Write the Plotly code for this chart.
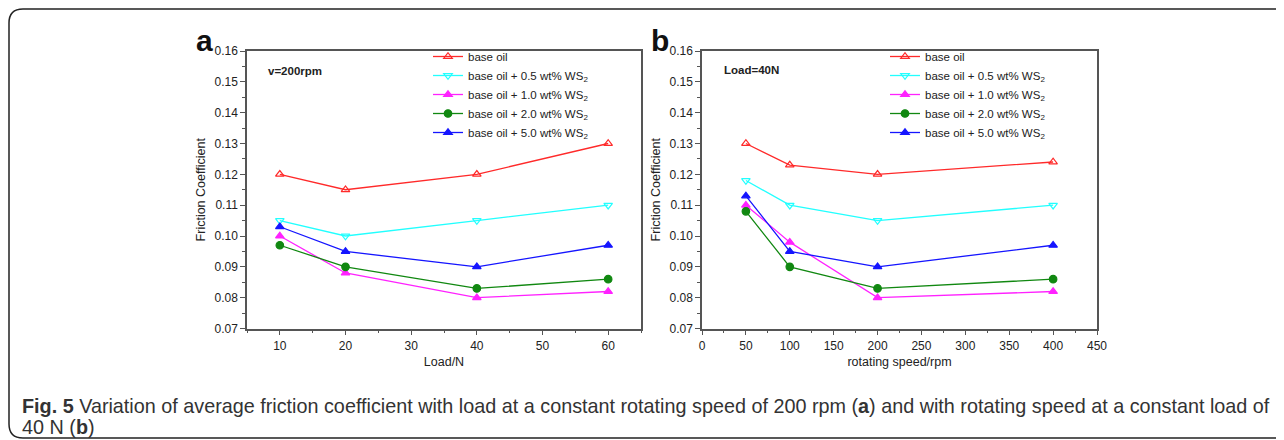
import plotly.graph_objects as go

# ---- data ----
load_n = [10, 20, 40, 60]
speed_rpm = [50, 100, 200, 400]
series_names = ["base oil", "base oil + 0.5 wt% WS<sub>2</sub>", "base oil + 1.0 wt% WS<sub>2</sub>",
                "base oil + 2.0 wt% WS<sub>2</sub>", "base oil + 5.0 wt% WS<sub>2</sub>"]
a_base = [0.120, 0.115, 0.120, 0.130]
a_05 = [0.105, 0.100, 0.105, 0.110]
a_10 = [0.100, 0.088, 0.080, 0.082]
a_20 = [0.097, 0.090, 0.083, 0.086]
a_50 = [0.103, 0.095, 0.090, 0.097]
b_base = [0.130, 0.123, 0.120, 0.124]
b_05 = [0.118, 0.110, 0.105, 0.110]
b_10 = [0.110, 0.098, 0.080, 0.082]
b_20 = [0.108, 0.090, 0.083, 0.086]
b_50 = [0.113, 0.095, 0.090, 0.097]

colors = ["#ff2a2a", "#22ffff", "#ff22ff", "#118811", "#1515ff"]
symbols = ["triangle-up-open", "triangle-down-open", "triangle-up", "circle", "triangle-up"]

# page has an 8px body margin, so the figure is shifted by 8px
OFF = 8
W, H = 1284 - OFF, 440 - OFF
fig = go.Figure()

a_series = [a_base, a_05, a_10, a_20, a_50]
b_series = [b_base, b_05, b_10, b_20, b_50]
for i, ys in enumerate(a_series):
    fig.add_trace(go.Scatter(x=load_n, y=ys, mode="lines+markers", name=series_names[i],
                             line=dict(color=colors[i], width=1.3),
                             marker=dict(symbol=symbols[i], size=7.5, color=colors[i], line=dict(width=1.2, color=colors[i])),
                             xaxis="x", yaxis="y", legend="legend"))
for i, ys in enumerate(b_series):
    fig.add_trace(go.Scatter(x=speed_rpm, y=ys, mode="lines+markers", name=series_names[i],
                             line=dict(color=colors[i], width=1.3),
                             marker=dict(symbol=symbols[i], size=7.5, color=colors[i], line=dict(width=1.2, color=colors[i])),
                             xaxis="x2", yaxis="y2", legend="legend2"))

def px_x(p):
    return (p - OFF) / W

def px_y(p):
    return 1 - (p - OFF) / H

FONT = "Arial, Liberation Sans, sans-serif"
axfont = dict(family=FONT, size=12, color="#222")
common = dict(showline=True, linecolor="#555", linewidth=1.5, mirror=True, ticks="outside",
              ticklen=5, tickwidth=1, tickcolor="#555", showgrid=False, zeroline=False,
              tickfont=axfont, automargin=False)
yaxis_common = dict(common, range=[0.07, 0.16], dtick=0.01, tick0=0.07, tickformat=".2f",
                    minor=dict(dtick=0.005, ticklen=3, tickcolor="#555", ticks="outside"),
                    title=dict(text="Friction Coefficient", font=dict(family=FONT, size=12.5, color="#222"), standoff=6))

legfont = dict(family=FONT, size=11.5, color="#222")
fig.update_layout(
    width=W, height=H,
    margin=dict(l=0, r=0, t=0, b=0),
    paper_bgcolor="white", plot_bgcolor="white",
    showlegend=True,
    xaxis=dict(common, domain=[px_x(247), px_x(641)], range=[5, 65], dtick=10, tick0=0,
               minor=dict(dtick=5, ticklen=3, tickcolor="#555", ticks="outside"),
               title=dict(text="Load/N", font=dict(family=FONT, size=12.5, color="#222"), standoff=6)),
    yaxis=dict(yaxis_common, domain=[px_y(328.5), px_y(51)], anchor="x"),
    xaxis2=dict(common, domain=[px_x(702), px_x(1097)], range=[0, 450], dtick=50, tick0=0,
                minor=dict(dtick=25, ticklen=3, tickcolor="#555", ticks="outside"),
                title=dict(text="rotating speed/rpm", font=dict(family=FONT, size=12.5, color="#222"), standoff=6),
                anchor="y2"),
    yaxis2=dict(yaxis_common, domain=[px_y(328.5), px_y(51)], anchor="x2"),
    legend=dict(x=px_x(428), y=px_y(42), xanchor="left", yanchor="top", bgcolor="rgba(0,0,0,0)",
                font=legfont, itemwidth=30, tracegroupgap=0),
    legend2=dict(x=px_x(885), y=px_y(42), xanchor="left", yanchor="top", bgcolor="rgba(0,0,0,0)",
                 font=legfont, itemwidth=30, tracegroupgap=0),
)

CAP = "Liberation Sans, Arial, sans-serif"
annos = [
    dict(text="<b>a</b>", x=px_x(194), y=px_y(40), font=dict(size=30, family=FONT, color="#111")),
    dict(text="<b>b</b>", x=px_x(649), y=px_y(40), font=dict(size=30, family=FONT, color="#111")),
    dict(text="<b>v=200rpm</b>", x=px_x(266), y=px_y(71), font=dict(size=11.5, family=FONT, color="#222")),
    dict(text="<b>Load=40N</b>", x=px_x(722), y=px_y(70), font=dict(size=11.5, family=FONT, color="#222")),
    dict(text="<b>Fig. 5</b> Variation of average friction coefficient with load at a constant rotating speed of 200 rpm (<b>a</b>) and with rotating speed at a constant load of",
         x=px_x(20), y=px_y(406), font=dict(size=19.8, family=CAP, color="#333")),
    dict(text="40 N (<b>b</b>)", x=px_x(20), y=px_y(427), font=dict(size=19.8, family=CAP, color="#333")),
]
for a in annos:
    fig.add_annotation(xref="paper", yref="paper", xanchor="left", yanchor="middle", showarrow=False, **a)

# rounded outer frame (open on the right side, as in the reference)
r = 14
path = (f"M {px_x(1300)} {px_y(9)} L {px_x(9 + r)} {px_y(9)} "
        f"Q {px_x(9)} {px_y(9)} {px_x(9)} {px_y(9 + r)} "
        f"L {px_x(9)} {px_y(438 - r)} Q {px_x(9)} {px_y(438)} {px_x(9 + r)} {px_y(438)} "
        f"L {px_x(1300)} {px_y(438)}")
fig.add_shape(type="path", path=path, xref="paper", yref="paper", line=dict(color="#222", width=1.5))

fig.write_html("out.html")
